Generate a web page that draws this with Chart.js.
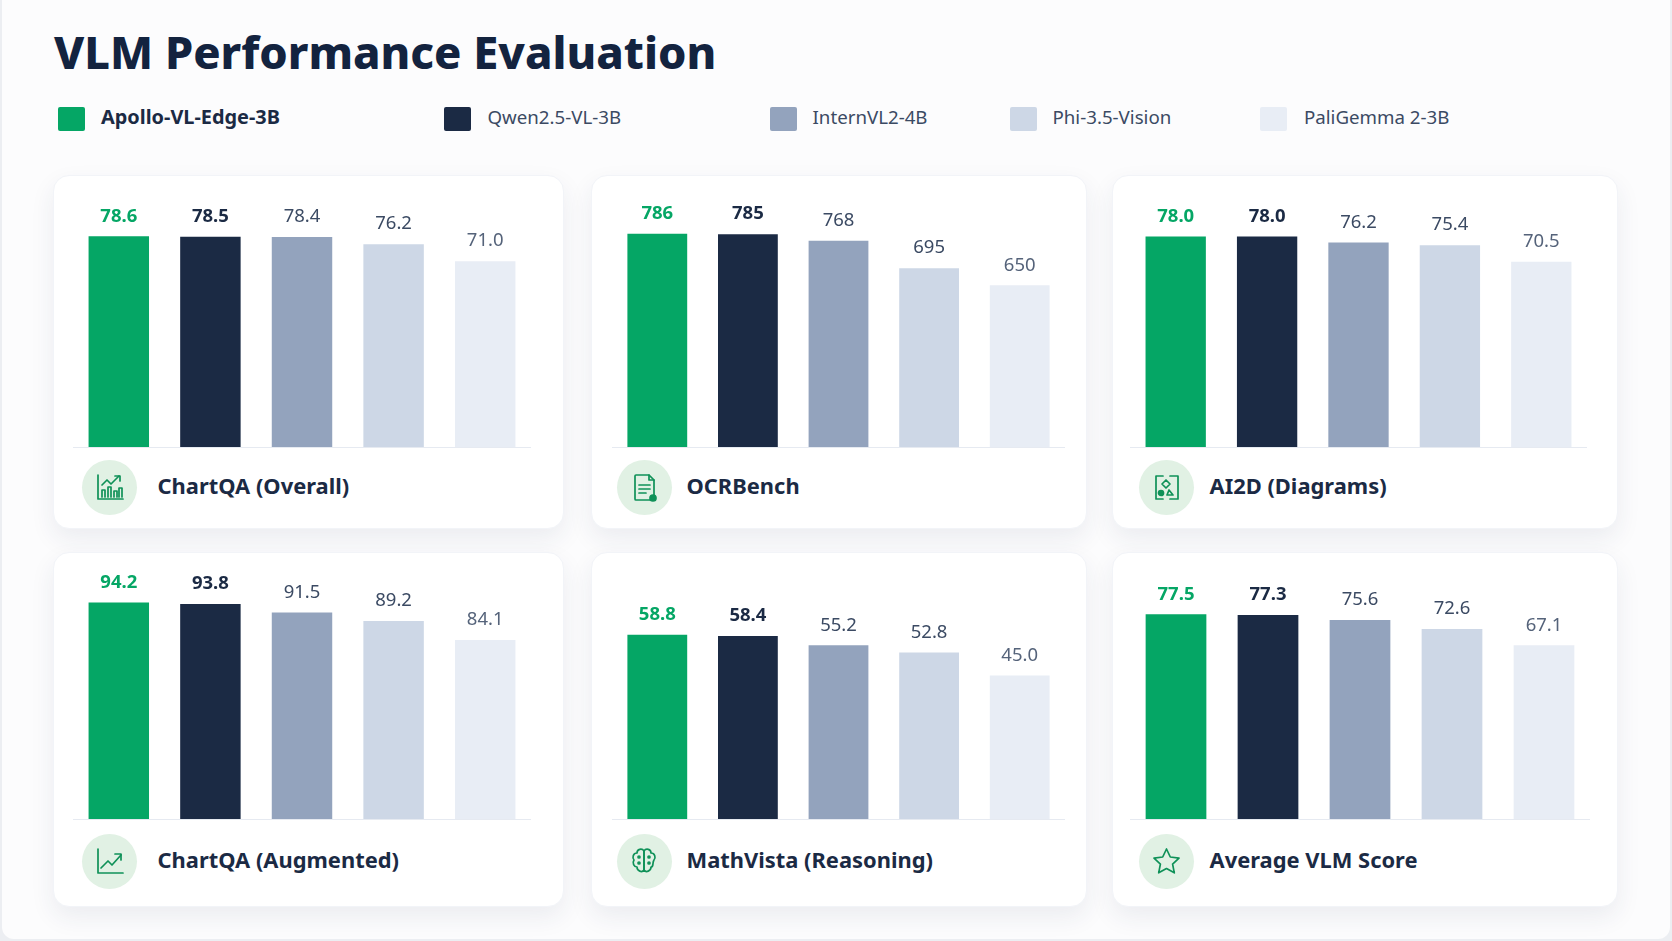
<!DOCTYPE html>
<html>
<head>
<meta charset="utf-8">
<title>VLM Performance Evaluation</title>
<script src="https://cdn.jsdelivr.net/npm/chart.js@4/dist/chart.umd.min.js"></script>
<style>
    html, body { margin: 0; padding: 0; width: 1672px; height: 941px; overflow: hidden; background: #eceef2; font-family: "Noto Sans", sans-serif; }
    #page { position: absolute; left: 2px; top: 0; width: 1668px; height: 939px; background: #fcfcfd; border-radius: 0 0 12px 12px; }
    h1 { position: absolute; top: 18px; margin: 0; font-size: 45.2px; line-height: 68px; font-weight: 800; color: #13233f; white-space: nowrap; }
    .swatch { position: absolute; top: 107px; width: 27px; height: 24px; border-radius: 2px; }
    .legend-text { position: absolute; top: 104px; line-height: 26px; font-size: 18.7px; color: #3b4a63; white-space: nowrap; }
    .card { position: absolute; background: #fff; border: 1px solid #f2f4f8; border-radius: 16px; box-sizing: border-box; box-shadow: 0 10px 24px rgba(35, 50, 85, 0.08); }
    canvas { position: absolute; }
    .circle { position: absolute; width: 55px; height: 55px; border-radius: 50%; background: #e1f1e4; }
    .circle svg { position: absolute; left: 12px; top: 12px; width: 31px; height: 31px; fill: none; stroke: #0f9158; stroke-width: 1.7; stroke-linecap: round; stroke-linejoin: round; }
    .card-title { position: absolute; line-height: 30px; font-size: 21.9px; font-weight: 700; color: #1b2a44; white-space: nowrap; }
</style>
</head>
<body>
<div id="page"></div>
<script>
// Chart data
const models = ['Apollo-VL-Edge-3B', 'Qwen2.5-VL-3B', 'InternVL2-4B', 'Phi-3.5-Vision', 'PaliGemma 2-3B'];
const benchmarks = ['ChartQA (Overall)', 'OCRBench', 'AI2D (Diagrams)', 'ChartQA (Augmented)', 'MathVista (Reasoning)', 'Average VLM Score'];

const chartQaOverall = [78.6, 78.5, 78.4, 76.2, 71.0];
const ocrBench = [786, 785, 768, 695, 650];
const ai2d = [78.0, 78.0, 76.2, 75.4, 70.5];
const chartQaAugmented = [94.2, 93.8, 91.5, 89.2, 84.1];
const mathVista = [58.8, 58.4, 55.2, 52.8, 45.0];
const averageScore = [77.5, 77.3, 75.6, 72.6, 67.1];

// the original axes do not start at zero, every panel has its own range
const axisMins = [14.1, 222, 15.4, 35.9, -3.7, 9];
const axisMaxes = [92.8, 902, 91.8, 105.9, 84.5, 96];

const colors = ['#05a665', '#1b2a44', '#93a3bd', '#cdd7e6', '#e8edf5'];
const labelColors = ['#05a665', '#1b2a44', '#3b4a63', '#3b4a63', '#55637a'];

const allValues = [chartQaOverall, ocrBench, ai2d, chartQaAugmented, mathVista, averageScore];
const decimals = [1, 0, 1, 1, 1, 1];

// Layout, in page pixels
const legendX = [[56, 99], [442, 485.5], [768, 810.5], [1008, 1050.5], [1258, 1302]];
const cards = [
    { x: 53, y: 175, w: 511, h: 354, plotX: 73, plotW: 458, plotY: 190, baseY: 446, centerY: 487, circleX: 109.5, titleX: 155.5 },
    { x: 591, y: 175, w: 496, h: 354, plotX: 612, plotW: 453, plotY: 190, baseY: 446, centerY: 487, circleX: 644.5, titleX: 684.5 },
    { x: 1112, y: 175, w: 506, h: 354, plotX: 1129.5, plotW: 457, plotY: 190, baseY: 446, centerY: 487, circleX: 1166.5, titleX: 1207.5 },
    { x: 53, y: 552, w: 511, h: 355, plotX: 73, plotW: 458, plotY: 559, baseY: 818, centerY: 861, circleX: 109.5, titleX: 155.5 },
    { x: 591, y: 552, w: 496, h: 355, plotX: 612, plotW: 453, plotY: 559, baseY: 818, centerY: 861, circleX: 644.5, titleX: 684.5 },
    { x: 1112, y: 552, w: 506, h: 355, plotX: 1129.5, plotW: 460, plotY: 559, baseY: 818, centerY: 861, circleX: 1166.5, titleX: 1207.5 }
];

const icons = [
    '<path d="M4 3v24h25"/><path d="M8 25v-7h3v7M14 25v-10h3v10M20 25v-6h3v6M25 25v-9h3v9"/><path d="M8 13l5-5 4 4 8-8"/><path d="M21 4h5v5"/>',
    '<path d="M7 3h13l5 5v19a1 1 0 0 1-1 1H7a1 1 0 0 1-1-1V4a1 1 0 0 1 1-1z"/><path d="M20 3v5h5M10 13h11M10 17h11M10 21h7"/><circle cx="24" cy="26" r="3" fill="#0f9158"/>',
    '<path d="M12 4H5v23h7M19 4h8v23h-8"/><path d="M15 8l4 4-4 4-4-4z"/><circle cx="10" cy="21" r="2.5" fill="#0f9158"/><path d="M18 18l4 5h-6z"/>',
    '<path d="M4 3v24h25"/><path d="M7 22l7-7 4 4 9-10"/><path d="M21 8h6v6"/>',
    '<path d="M15 5c-2-3-7-2-7 2-4 0-5 5-3 7-2 3 0 7 3 7 0 4 5 6 7 3zM15 5c2-3 7-2 7 2 4 0 5 5 3 7-2 3 0 7-3 7 0 4-5 6-7 3z"/><path d="M15 5v19"/><circle cx="10" cy="11" r="1"/><circle cx="10" cy="17" r="1"/><circle cx="20" cy="11" r="1"/><circle cx="20" cy="17" r="1"/>',
    '<path d="M15.5 3l3.8 8 8.7 1.1-6.4 6 1.7 8.7-7.8-4.3-7.8 4.3 1.7-8.7-6.4-6 8.700-1.100z"/>'
];

const page = document.getElementById('page');

function addElement(tag, className, left, top, text) {
    const el = document.createElement(tag);
    if (className) el.className = className;
    if (left !== null) el.style.left = (left - 2) + 'px';
    if (top !== null) el.style.top = top + 'px';
    if (text) el.textContent = text;
    page.appendChild(el);
    return el;
}

addElement('h1', '', 54, null, 'VLM Performance Evaluation');

models.forEach(function (name, i) {
    const swatch = addElement('div', 'swatch', legendX[i][0] + 2, null);
    swatch.style.background = colors[i];
    const text = addElement('div', 'legend-text', legendX[i][1] + 2, null, name);
    if (i === 0) {
        text.style.fontWeight = '700';
        text.style.fontSize = '19.9px';
        text.style.color = '#1b2a44';
    }
});

// Writes the value above each bar
const valueLabels = {
    id: 'valueLabels',
    afterDatasetsDraw(chart) {
        const ctx = chart.ctx;
        const meta = chart.getDatasetMeta(0);
        const values = chart.data.datasets[0].data;
        const digits = chart.options.plugins.valueLabels.digits;
        ctx.save();
        ctx.textAlign = 'center';
        ctx.textBaseline = 'middle';
        meta.data.forEach(function (bar, i) {
            ctx.font = (i < 2 ? '700' : '400') + ' 18.5px "Noto Sans"';
            ctx.fillStyle = labelColors[i];
            ctx.fillText(values[i].toFixed(digits), bar.x, bar.y - 20);
        });
        ctx.restore();
    }
};

benchmarks.forEach(function (title, i) {
    const c = cards[i];
    const card = addElement('div', 'card', c.x, c.y);
    card.style.width = c.w + 'px';
    card.style.height = c.h + 'px';

    const canvas = addElement('canvas', '', c.plotX, c.plotY);
    canvas.width = c.plotW;
    canvas.height = c.baseY - c.plotY + 2;
    canvas.style.width = canvas.width + 'px';
    canvas.style.height = canvas.height + 'px';

    const circle = addElement('div', 'circle', c.circleX - 27.5, c.centerY - 27.5);
    circle.innerHTML = '<svg viewBox="0 0 31 31">' + icons[i] + '</svg>';
    addElement('div', 'card-title', c.titleX + 2, c.centerY - 16, title);

    new Chart(canvas.getContext('2d'), {
        type: 'bar',
        data: {
            labels: models,
            datasets: [{
                data: allValues[i],
                backgroundColor: colors,
                borderWidth: 0,
                base: axisMins[i],
                barPercentage: 0.66,
                categoryPercentage: 1
            }]
        },
        options: {
            responsive: false,
            animation: false,
            layout: { padding: { bottom: 1 } },
            plugins: {
                legend: { display: false },
                tooltip: { enabled: false },
                valueLabels: { digits: decimals[i] }
            },
            scales: {
                x: {
                    grid: { display: false, drawTicks: false },
                    border: { display: true, color: '#e6eaf1', width: 1 },
                    ticks: { display: false }
                },
                y: {
                    display: false,
                    min: axisMins[i],
                    max: axisMaxes[i]
                }
            }
        },
        plugins: [valueLabels]
    });
});
</script>
</body>
</html>
